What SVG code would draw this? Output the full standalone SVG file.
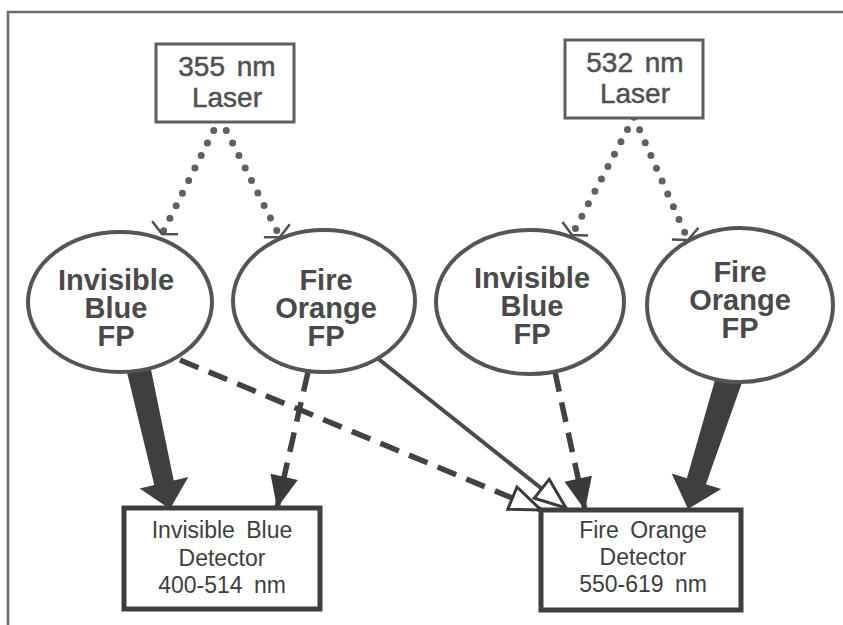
<svg xmlns="http://www.w3.org/2000/svg" width="843" height="625" viewBox="0 0 843 625">
<style>
.frame{fill:none;stroke:#6a6a6a;stroke-width:2.5}
.laser rect{fill:#fff;stroke:#5e5e5e;stroke-width:3}
.laser text{font-family:"Liberation Sans",Arial,sans-serif;font-size:28px;fill:#505050;stroke:#505050;stroke-width:0.5;text-anchor:middle;word-spacing:4px}
.fp ellipse{fill:#fff;stroke:#555;stroke-width:4}
.fp text{font-family:"Liberation Sans",Arial,sans-serif;font-size:29px;font-weight:bold;fill:#4a4a4a;text-anchor:middle}
.det rect{fill:#fff;stroke:#3e3e3e;stroke-width:5}
.det text{font-family:"Liberation Sans",Arial,sans-serif;font-size:23px;fill:#3e3e3e;text-anchor:middle;word-spacing:5px}
.dots{fill:none;stroke:#606060;stroke-width:7;stroke-linecap:round;stroke-dasharray:0 14}
.dash{fill:none;stroke:#424242;stroke-width:5.5;stroke-dasharray:20 11}
.thin{fill:none;stroke:#4a4a4a;stroke-width:4}
.block{fill:#3f3f3f}
</style>
<defs>
<marker id="vee" markerUnits="userSpaceOnUse" orient="auto" refX="0" refY="0" markerWidth="30" markerHeight="40" viewBox="-20 -20 30 40" overflow="visible">
<path d="M-7,-14.5 L0,0 L-7,14.5" fill="none" stroke="#505050" stroke-width="2.5"/>
</marker>
<marker id="solidHead" markerUnits="userSpaceOnUse" orient="auto" refX="0" refY="0" markerWidth="40" markerHeight="40" viewBox="-35 -20 40 40" overflow="visible">
<path d="M-32,-14 L0,0 L-32,14 Z" fill="#3a3a3a"/>
</marker>
<marker id="openHead" markerUnits="userSpaceOnUse" orient="auto" refX="0" refY="0" markerWidth="40" markerHeight="40" viewBox="-35 -20 40 40" overflow="visible">
<path d="M-31,-12 L0,0 L-31,12 Z" fill="#fff" stroke="#3a3a3a" stroke-width="3" stroke-linejoin="miter"/>
</marker>
</defs>
<path class="frame" d="M8,625 L8,12 L843,12"/>
<g id="connectors">
<path class="dots" d="M220,118 L162,234" marker-end="url(#vee)"/>
<path class="dots" d="M220,118 L280,237" marker-end="url(#vee)"/>
<path class="dots" d="M634,117 L572,235" marker-end="url(#vee)"/>
<path class="dots" d="M634,117 L688,240" marker-end="url(#vee)"/>
<polygon class="block" points="124,360 148,355 173.7,480.4 188.3,477 170,509 139.7,488.4 154.3,485"/>
<polygon class="block" points="719,366 745,374 705.9,484.3 721.2,489.1 688,509 671.6,473.5 686.9,478.3"/>
<path class="dash" d="M308,372 L277,508" marker-end="url(#solidHead)"/>
<path class="dash" d="M180,360 L541,510" marker-end="url(#openHead)"/>
<path class="thin" d="M376,357 L566,508" marker-end="url(#openHead)"/>
<path class="dash" d="M555,372 L585,510" marker-end="url(#solidHead)"/>
</g>
<g id="laser355" class="laser">
<rect x="156" y="44" width="138" height="78"/>
<text x="227" y="76">355 nm</text>
<text x="227" y="107">Laser</text>
</g>
<g id="laser532" class="laser">
<rect x="565" y="40" width="138" height="78"/>
<text x="635" y="72">532 nm</text>
<text x="635" y="103">Laser</text>
</g>
<g id="fp1" class="fp">
<ellipse cx="120" cy="302" rx="92" ry="70"/>
<text x="116" y="290">Invisible</text>
<text x="116" y="318">Blue</text>
<text x="116" y="346">FP</text>
</g>
<g id="fp2" class="fp">
<ellipse cx="324" cy="301" rx="91" ry="71"/>
<text x="326" y="290">Fire</text>
<text x="326" y="318">Orange</text>
<text x="326" y="346">FP</text>
</g>
<g id="fp3" class="fp">
<ellipse cx="530" cy="302" rx="94" ry="72"/>
<text x="532" y="288">Invisible</text>
<text x="532" y="316">Blue</text>
<text x="532" y="344">FP</text>
</g>
<g id="fp4" class="fp">
<ellipse cx="740" cy="305" rx="93" ry="77"/>
<text x="740" y="282">Fire</text>
<text x="740" y="310">Orange</text>
<text x="740" y="338">FP</text>
</g>
<g id="detBlue" class="det">
<rect x="124" y="508" width="196" height="101"/>
<text x="222" y="538">Invisible Blue</text>
<text x="222" y="566">Detector</text>
<text x="222" y="593">400-514 nm</text>
</g>
<g id="detOrange" class="det">
<rect x="541" y="510" width="200" height="100"/>
<text x="643" y="538">Fire Orange</text>
<text x="643" y="565">Detector</text>
<text x="643" y="592">550-619 nm</text>
</g>
</svg>
